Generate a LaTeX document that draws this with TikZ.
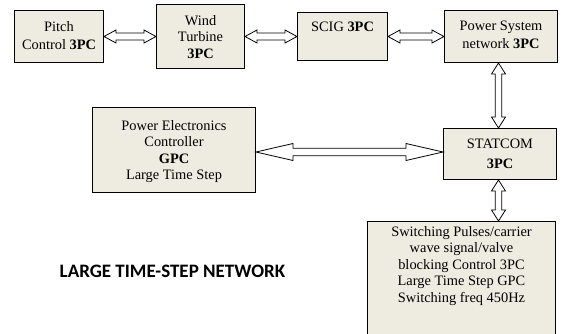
\documentclass[tikz,border=0pt]{standalone}
\usepackage{fontspec}
\setmainfont{Liberation Serif}
\newfontfamily\labelfont{Carlito}
\usetikzlibrary{calc}
\definecolor{boxfill}{HTML}{EEECE1}
\newcommand{\boxtxt}[4]{\parbox[c][#2][t]{#1}{\centering\rule{0pt}{#3}#4}}
\tikzset{
  ahl/.store in=\ahl, ahw/.store in=\ahw, asw/.store in=\asw,
  ahl=12pt, ahw=6.5pt, asw=3.5pt,
  box/.style={draw=black, line width=1pt, fill=boxfill, inner sep=0pt,
    anchor=north west, font=\fontsize{14.4}{16.6}\selectfont},
  hollow/.style={draw=black, line width=0.8pt, fill=white, line join=miter,
    to path={
      coordinate (hs) at (\tikztostart) coordinate (ht) at (\tikztotarget)
      coordinate (h1) at ($(hs)!\ahl!(ht)$) coordinate (h2) at ($(ht)!\ahl!(hs)$)
      (hs) -- ($(h1)!\ahw!90:(ht)$) -- ($(h1)!\asw!90:(ht)$)
      -- ($(h2)!\asw!-90:(hs)$) -- ($(h2)!\ahw!-90:(hs)$) -- (ht)
      -- ($(h2)!\ahw!90:(hs)$) -- ($(h2)!\asw!90:(hs)$)
      -- ($(h1)!\asw!-90:(ht)$) -- ($(h1)!\ahw!-90:(ht)$) -- cycle}},
  vert/.style={ahl=11pt, ahw=7pt, asw=3.3pt},
  longarrow/.style={ahl=37pt, ahw=8.5pt, asw=3.7pt},
  biglabel/.style={font=\labelfont\bfseries\fontsize{19}{22}\selectfont, inner sep=0pt}
}
\begin{document}
\begin{tikzpicture}[x=1pt, y=-1pt]
\path[use as bounding box] (0,0) rectangle (563,333);
\clip (0,0) rectangle (563,333);
\node[box] (pitch) at (14,10) {\boxtxt{89pt}{52pt}{20.5pt}{Pitch\\[1.4pt]Control \textbf{3PC}}};
\node[box] (wind) at (156,4) {\boxtxt{88pt}{64pt}{20.5pt}{Wind\\Turbine\\\textbf{3PC}}};
\node[box] (scig) at (297,12) {\boxtxt{90pt}{48pt}{19pt}{SCIG \textbf{3PC}}};
\node[box] (power) at (444,10) {\boxtxt{113pt}{52pt}{19.5pt}{Power System\\[1.4pt]network \textbf{3PC}}};
\node[box] (pec) at (92,107) {\boxtxt{163pt}{85pt}{22.5pt}{Power Electronics\\Controller\\\textbf{GPC}\\Large Time Step}};
\node[box] (statcom) at (443,128) {\boxtxt{113pt}{51pt}{19.7pt}{STATCOM\\[3.4pt]\textbf{3PC}}};
\node[box] (sw) at (367,221) {\boxtxt{188pt}{125pt}{14.5pt}{Switching Pulses/carrier\\wave signal/valve\\blocking Control 3PC\\Large Time Step GPC\\Switching freq 450Hz}};
\node[biglabel] (lbl) at (172.5,271) {LARGE TIME-STEP NETWORK};
\draw[hollow] (pitch.east) to (wind.west);
\draw[hollow] (wind.east) to (scig.west);
\draw[hollow] (scig.east) to (power.west);
\draw[hollow, vert] ([xshift=-1.5pt]statcom.north |- power.south) to ([xshift=-1.5pt]statcom.north);
\draw[hollow, vert] ([xshift=-1.5pt]statcom.south) to ([xshift=-1.5pt]statcom.south |- sw.north);
\draw[hollow, longarrow] ([yshift=-2pt]pec.east) to ([yshift=-2pt]pec.east -| statcom.west);
\end{tikzpicture}
\end{document}
